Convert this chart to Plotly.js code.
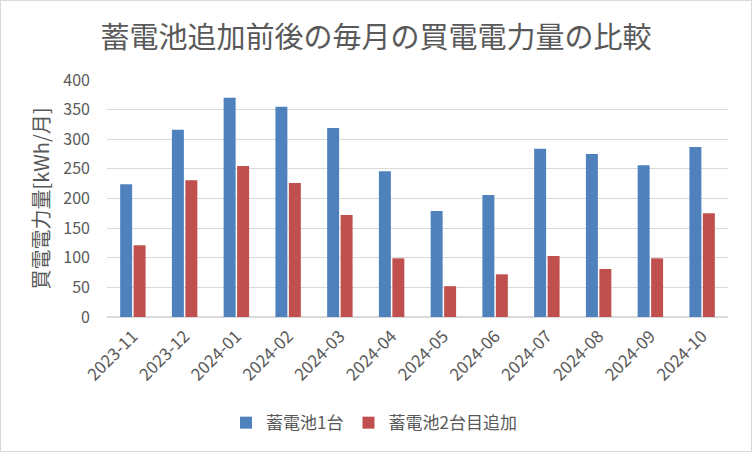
<!DOCTYPE html>
<html>
<head>
<meta charset="utf-8">
<script src="https://cdn.plot.ly/plotly-3.0.1.min.js"></script>
<style>
  html, body { margin: 0; padding: 0; background: #fff; }
  #chart { width: 750px; height: 450px; border: 1px solid #d9d9d9; }
</style>
</head>
<body>
<div id="chart"></div>
<script>
const months = [
  "2023-11", "2023-12", "2024-01", "2024-02", "2024-03", "2024-04",
  "2024-05", "2024-06", "2024-07", "2024-08", "2024-09", "2024-10",
];
// 買電電力量 [kWh/月]
const oneBattery = [224, 316, 370, 355, 319, 246, 179, 206, 284, 275, 256, 287];
const twoBatteries = [121, 231, 255, 226, 172, 99, 52, 72, 103, 81, 99, 175];
const yTicks = [0, 50, 100, 150, 200, 250, 300, 350, 400];

const textColor = "#595959";
const font = "'Noto Sans CJK JP', 'Noto Sans', sans-serif";

const data = [
  {
    type: "bar",
    name: "蓄電池1台",
    x: months,
    y: oneBattery,
    marker: { color: "#4f81bd" },
  },
  {
    type: "bar",
    name: "蓄電池2台目追加",
    x: months,
    y: twoBatteries,
    marker: { color: "#c0504d" },
  },
];

const layout = {
  width: 750,
  height: 450,
  margin: { l: 106, r: 23, t: 79, b: 134 },
  paper_bgcolor: "#fff",
  plot_bgcolor: "#fff",
  font: { family: font, color: textColor },
  title: {
    text: "蓄電池追加前後の毎月の買電電力量の比較",
    font: { size: 29, color: textColor, family: font },
    x: 0.5,
    xanchor: "center",
    y: 0.918,
    yanchor: "middle",
  },
  barmode: "group",
  bargap: 0.48,
  bargroupgap: 0.11,
  xaxis: {
    type: "category",
    tickangle: -45,
    tickfont: { size: 17, color: textColor },
    showgrid: false,
    showline: false,
    ticks: "",
    ticklabelstandoff: 5,
    automargin: false,
    fixedrange: true,
  },
  yaxis: {
    range: [0, 400],
    tickvals: yTicks,
    ticktext: yTicks.map(String),
    tickfont: { size: 16, color: textColor },
    gridcolor: "#d9d9d9",
    gridwidth: 1,
    zeroline: true,
    zerolinecolor: "#d9d9d9",
    zerolinewidth: 1.5,
    ticks: "",
    ticklabelstandoff: 16,
    automargin: false,
    title: {
      text: "買電電力量[kWh/月]",
      font: { size: 20, color: textColor },
      standoff: 8,
    },
    fixedrange: true,
  },
  legend: {
    orientation: "h",
    x: 0.43,
    xanchor: "center",
    yref: "container",
    y: 0.062,
    yanchor: "middle",
    font: { size: 17, color: textColor },
    itemwidth: 30,
  },
};

Plotly.newPlot("chart", data, layout, { displayModeBar: false, staticPlot: true });
</script>
</body>
</html>
